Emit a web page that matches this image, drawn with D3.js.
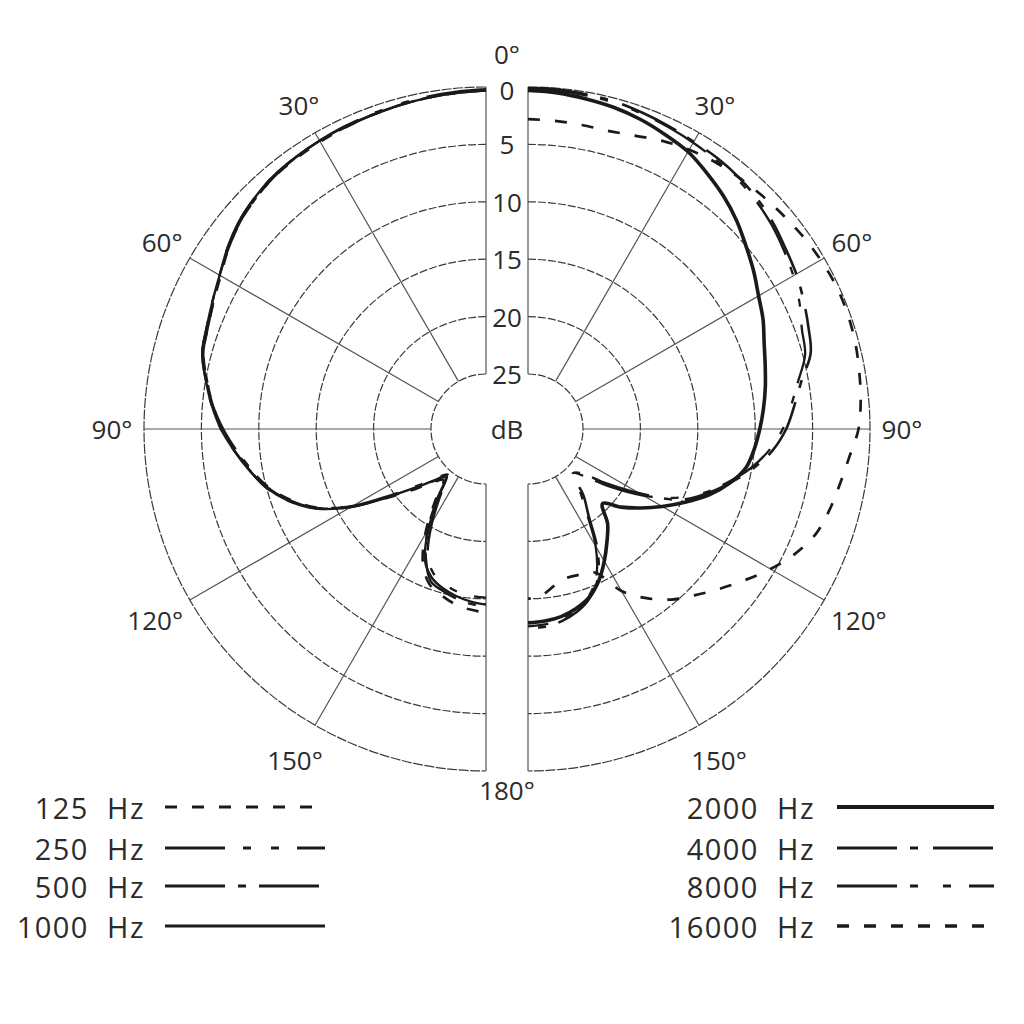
<!DOCTYPE html>
<html>
<head>
<meta charset="utf-8">
<script src="https://cdn.jsdelivr.net/npm/d3@7/dist/d3.min.js"></script>
<style>
  html, body { margin: 0; padding: 0; background: #fff; }
  text { font-family: "Open Sans", "DejaVu Sans", sans-serif; fill: #2b2b2b; }
</style>
</head>
<body>
<svg id="chart" width="1024" height="1024"></svg>
<script>

// angles in degrees (0 = front, 180 = rear), one value every 5 degrees
var angles = d3.range(0, 181, 5),
    ringLevels = [0, 5, 10, 15, 20, 25],
    spokeAngles = [30, 60, 90, 120, 150],
    angleLabels = [0, 30, 60, 90, 120, 150, 180];

// left half: low frequencies (attenuation in dB)
var hz125  = [0.3,0.4,0.5,0.6,0.7,0.8,0.9,1.0,1.1,1.4,1.8,2.4,3.1,3.6,4.0,4.3,5.1,5.9,6.8,7.9,9.0,10.2,11.7,13.6,16.3,19.4,21.6,23.2,24.0,22.0,19.2,16.8,15.4,14.8,14.3,14.0,13.8],
    hz250  = [0.2,0.3,0.4,0.5,0.6,0.7,0.8,0.9,1.0,1.3,1.7,2.3,3.0,3.5,3.9,4.2,5.0,5.8,6.7,7.8,8.9,10.0,11.5,13.5,16.4,19.8,22.2,23.8,24.6,23.0,20.4,17.8,16.4,15.8,15.4,15.2,15.1],
    hz500  = [0.3,0.4,0.5,0.6,0.7,0.8,0.8,0.9,1.1,1.4,1.8,2.4,3.0,3.6,4.0,4.3,5.1,5.9,6.9,8.0,9.1,10.1,11.6,13.5,16.2,19.5,21.8,23.4,24.3,22.4,19.6,17.4,15.7,15.2,14.8,14.5,14.3],
    hz1000 = [0.3,0.4,0.5,0.6,0.7,0.7,0.8,0.9,1.0,1.3,1.7,2.3,3.0,3.5,3.9,4.2,5.0,5.8,6.7,7.8,8.9,10.0,11.5,13.4,16.2,19.6,21.9,23.5,24.5,22.6,19.8,17.2,16.0,15.4,15.0,14.7,14.5];

// right half: high frequencies
var hz2000  = [0.3,0.4,0.6,0.8,1.1,1.5,1.9,2.6,3.3,4.1,5.0,5.8,6.6,7.2,7.9,8.4,8.8,9.2,9.6,10.0,10.5,11.6,13.0,14.7,16.3,17.8,19.2,20.6,19.0,17.8,16.5,15.2,14.2,13.6,13.2,13.0,12.9],
    hz4000  = [0.1,0.1,0.2,0.3,0.5,0.7,0.9,1.0,1.2,1.5,1.9,2.4,2.8,3.3,3.8,4.3,5.6,6.5,7.3,8.4,9.9,11.6,13.3,15.2,18.6,21.6,23.8,24.3,22.3,20.6,17.7,15.4,14.1,13.3,12.8,12.5,12.5],
    hz8000  = [0.1,0.2,0.3,0.4,0.6,0.8,1.0,1.2,1.4,1.7,2.1,2.6,3.1,3.7,4.4,4.8,5.9,6.8,7.6,8.7,10.1,11.8,13.5,15.6,18.2,21.0,23.4,24.4,22.8,20.9,18.0,15.7,14.3,13.5,13.0,12.7,12.6],
    hz16000 = [2.8,2.85,2.9,2.9,2.6,2.1,1.7,1.4,1.2,1.0,0.8,0.55,0.35,0.2,0.2,0.3,0.5,0.7,1.0,1.7,2.2,2.6,3.1,4.1,5.4,6.8,8.1,9.3,10.4,11.8,13.5,16.0,16.3,16.4,16.0,15.3,15.0];

var series = [
    {name: "125 Hz",   side: -1, values: hz125,   dash: "12,15",              width: 2.6},
    {name: "250 Hz",   side: -1, values: hz250,   dash: "60,18,8,20,8,18",    width: 2.4},
    {name: "500 Hz",   side: -1, values: hz500,   dash: "60,13,8,13",         width: 2.4},
    {name: "1000 Hz",  side: -1, values: hz1000,  dash: null,                 width: 2.4},
    {name: "2000 Hz",  side: 1,  values: hz2000,  dash: null,                 width: 3.6},
    {name: "4000 Hz",  side: 1,  values: hz4000,  dash: "60,13,8,15",         width: 2.6},
    {name: "8000 Hz",  side: 1,  values: hz8000,  dash: "60,13,8,25,8,18",    width: 2.3},
    {name: "16000 Hz", side: 1,  values: hz16000, dash: "12,15",              width: 2.7}
];

var svg = d3.select("#chart"),
    cy = 429,
    halfGap = 21,
    centerX = 507,
    outerR = 342,
    holeR = 55,
    gridColor = "#3a3a3a";

var r = d3.scaleLinear().domain([0, 25]).range([outerR, holeR]);
var rad = function (deg) { return deg * Math.PI / 180; };

[-1, 1].forEach(function (side) {
    var g = svg.append("g")
        .attr("transform", "translate(" + (centerX + side * halfGap) + "," + cy + ")");

    // rings (half circles)
    ringLevels.forEach(function (lvl) {
        var p = d3.path();
        p.moveTo(0, -r(lvl));
        p.arc(0, 0, r(lvl), -Math.PI / 2, Math.PI / 2, side < 0);
        g.append("path")
            .attr("d", p.toString())
            .attr("fill", "none")
            .attr("stroke", gridColor)
            .attr("stroke-width", 1.2)
            .attr("stroke-dasharray", lvl === 0 ? "10,1.5" : "8,2");
    });

    // spokes
    spokeAngles.forEach(function (a) {
        var s = Math.sin(rad(a)) * side, c = -Math.cos(rad(a));
        g.append("line")
            .attr("x1", s * holeR).attr("y1", c * holeR)
            .attr("x2", s * outerR).attr("y2", c * outerR)
            .attr("stroke", "#555").attr("stroke-width", 1.2);
    });

    // vertical axis edges of the gap
    [[-outerR, -holeR], [holeR, outerR]].forEach(function (seg) {
        g.append("line")
            .attr("x1", 0).attr("y1", seg[0])
            .attr("x2", 0).attr("y2", seg[1])
            .attr("stroke", "#555").attr("stroke-width", 1.2);
    });

    // curves
    var line = d3.lineRadial()
        .angle(function (d, i) { return side * rad(angles[i]); })
        .radius(function (d) { return r(Math.min(d, 25)); })
        .curve(d3.curveCatmullRom.alpha(0.5));

    series.filter(function (s) { return s.side === side; }).forEach(function (s) {
        g.append("path")
            .attr("d", line(s.values))
            .attr("fill", "none")
            .attr("stroke", "#1a1a1a")
            .attr("stroke-width", s.width)
            .attr("stroke-linejoin", "round")
            .attr("stroke-dasharray", s.dash);
    });

    // angle labels
    angleLabels.forEach(function (a) {
        if ((a === 0 || a === 180) && side < 0) return;
        var pad = a > 90 ? 40 : 32,
            rr = outerR + pad,
            x = (a === 0 || a === 180) ? -halfGap : side * rr * Math.sin(rad(a)),
            y = -rr * Math.cos(rad(a));
        if (a === 0) y = -outerR - 33;
        if (a === 180) y = outerR + 19;
        g.append("text")
            .attr("x", x).attr("y", y)
            .attr("text-anchor", "middle")
            .attr("dominant-baseline", "central")
            .attr("font-size", 26)
            .text(a + "°");
    });
});

// dB scale labels in the gap
ringLevels.forEach(function (lvl) {
    svg.append("text")
        .attr("x", centerX)
        .attr("y", cy - r(lvl) + (lvl === 0 ? 3 : 0))
        .attr("text-anchor", "middle")
        .attr("dominant-baseline", "central")
        .attr("font-size", 26)
        .text(lvl);
});

svg.append("text")
    .attr("x", centerX).attr("y", cy)
    .attr("text-anchor", "middle")
    .attr("dominant-baseline", "central")
    .attr("font-size", 26)
    .text("dB");

// legend
var legendRows = [807, 848, 886, 926];
var legendCols = [
    {side: -1, textX: 145, x1: 165, x2: 325},
    {side: 1,  textX: 815, x1: 837, x2: 994}
];

legendCols.forEach(function (col) {
    series.filter(function (s) { return s.side === col.side; }).forEach(function (s, i) {
        var y = legendRows[i];
        svg.append("text")
            .attr("x", col.textX).attr("y", y)
            .attr("text-anchor", "end")
            .attr("dominant-baseline", "central")
            .attr("font-size", 29)
            .attr("letter-spacing", 1.5)
            .text(s.name.replace(" ", "\u00a0\u00a0"));
        svg.append("line")
            .attr("x1", col.x1).attr("y1", y)
            .attr("x2", col.x2).attr("y2", y)
            .attr("stroke", "#1a1a1a")
            .attr("stroke-width", s.width + 0.6)
            .attr("stroke-dasharray", s.dash);
    });
});

</script>
</body>
</html>
